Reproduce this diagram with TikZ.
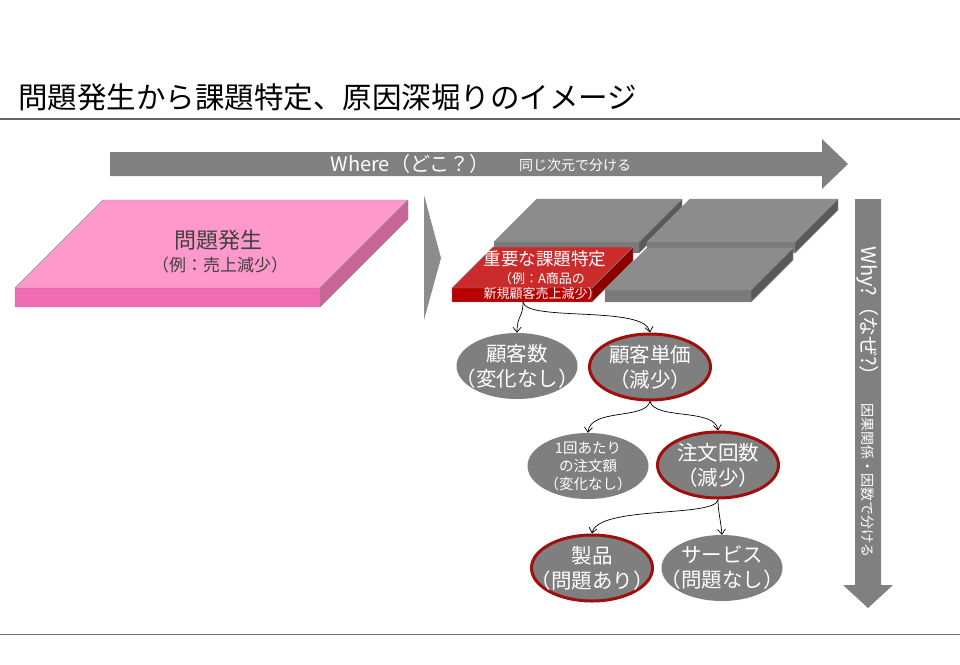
\documentclass[tikz,border=0pt]{standalone}
\usepackage{fontspec}
\setmainfont{Noto Sans CJK JP}
\usetikzlibrary{shapes.geometric,arrows.meta}
\definecolor{pinktop}{HTML}{FF99CC}
\definecolor{pinkfront}{HTML}{F06CB4}
\definecolor{pinkside}{HTML}{C8669A}
\definecolor{graytop}{HTML}{8C8C8C}
\definecolor{grayfront}{HTML}{7A7A7A}
\definecolor{grayside}{HTML}{5A5A5A}
\definecolor{redtop}{HTML}{CC2B2B}
\definecolor{redfront}{HTML}{B80000}
\definecolor{redside}{HTML}{8C0000}
\definecolor{arrowgray}{HTML}{808080}
\definecolor{ellgray}{HTML}{7F7F7F}
\definecolor{ellred}{HTML}{A00E0E}
\newcommand\myslab[8]{%
  % #1 x, #2 y (top back-left), #3 width, #4 depth, #5 thickness, #6 top, #7 front, #8 side
  \fill[#6] (#1,#2) -- ++(#3,0) -- ++(-#4,#4) -- ++(-#3,0) -- cycle;
  \fill[#7] (#1-#4,#2+#4) -- ++(#3,0) -- ++(0,#5) -- ++(-#3,0) -- cycle;
  \fill[#8] (#1+#3-#4,#2+#4) -- ++(#4,-#4) -- ++(0,#5) -- ++(-#4,#4) -- cycle;
  \draw[slabedge] (#1,#2) -- ++(#3,0) -- ++(0,#5) -- ++(-#4,#4) -- ++(-#3,0) -- ++(0,-#5) -- cycle;
  \draw[slabedge] (#1-#4,#2+#4) -- ++(#3,0) -- ++(#4,-#4) (#1+#3-#4,#2+#4) -- ++(0,#5);
}
\begin{document}
\begin{tikzpicture}[x=1pt,y=-1pt,
  slabedge/.style={draw=black!45,line width=0.4pt,line join=round},
  wtext/.style={text=white,inner sep=0pt},
  ell/.style={ellipse,fill=ellgray,inner sep=0pt,
    minimum width=121pt,minimum height=66pt},
  ellr/.style={ell,draw=ellred,line width=3pt},
  etxt/.style={wtext,align=center,font=\fontsize{20.5}{25}\selectfont},
  stxt/.style={wtext,align=center,font=\fontsize{14.5}{18}\selectfont},
  conn/.style={draw=black,line width=0.7pt,-{Straight Barb[length=5pt,width=8pt]}},
  bigarrow/.style={fill=arrowgray}]
\useasboundingbox (0,0) rectangle (960,664);
\fill[white] (0,0) rectangle (960,664);
% title
\node[anchor=west,inner sep=0pt,font=\fontsize{29.5}{31}\selectfont] (title) at (18,97) {問題発生から課題特定、原因深堀りのイメージ};
\draw[black!60,line width=1.5pt] (0,119) -- (960,119);
\draw[black!55,line width=1pt] (0,634) -- (960,634);
% horizontal arrow
\path[bigarrow] (110,152) -- (822,152) -- (822,139) -- (848,164) -- (822,189) -- (822,176) -- (110,176) -- cycle;
\node[wtext,font=\fontsize{20}{21}\selectfont] (where) at (410,164) {Where（どこ？）};
\node[wtext,font=\fontsize{14}{15}\selectfont] (wheresub) at (575,165) {同じ次元で分ける};
% vertical arrow
\path[bigarrow] (855,199) -- (881,199) -- (881,585) -- (893,585) -- (868,608) -- (843,585) -- (855,585) -- cycle;
\node[wtext,rotate=-90,font=\fontsize{20}{21}\selectfont] (why) at (868,316) {Why?（なぜ?）};
\node[wtext,rotate=-90,font=\fontsize{14}{15}\selectfont] (whysub) at (868,480) {因果関係・因数で分ける};
% pink slab
\myslab{103}{200}{305}{88}{19}{pinktop}{pinkfront}{pinkside}
\node[text=black!75,font=\fontsize{22}{24}\selectfont] (prob) at (218,240) {問題発生};
\node[text=black!75,font=\fontsize{17}{18}\selectfont] (probsub) at (220,265) {（例：売上減少）};
% chevron
\fill[graytop] (424,195) -- (441,258) -- (424,320) -- cycle;
% gray slabs
\myslab{537}{199}{145}{43}{11}{graytop}{grayfront}{grayside}
\myslab{690}{199}{148}{43}{11}{graytop}{grayfront}{grayside}
\myslab{647}{248}{146}{42}{12}{graytop}{grayfront}{grayside}
% red slab
\myslab{493}{247}{140}{41}{14}{redtop}{redfront}{redside}
\node[wtext,font=\fontsize{17.5}{18}\selectfont] (key) at (545,259) {重要な課題特定};
\node[wtext,align=center,font=\fontsize{13}{15}\selectfont] (keysub) at (542,286) {（例：A商品の\\新規顧客売上減少）};
\coordinate (rs) at (523,302);
% ellipses
\node[ell,label={[etxt]center:顧客数\\（変化なし）}] (e1) at (517,366) {};
\node[ellr,label={[etxt]center:顧客単価\\（減少）}] (e2) at (650,367) {};
\node[ell,label={[stxt]center:1回あたり\\の注文額\\（変化なし）}] (e3) at (588,466) {};
\node[ellr,label={[etxt]center:注文回数\\（減少）}] (e4) at (718,465) {};
\node[ellr,label={[etxt]center:製品\\（問題あり）}] (e5) at (592,568) {};
\node[ell,label={[etxt]center:サービス\\（問題なし）}] (e6) at (722,568) {};
% connectors
\draw[conn] (rs) .. controls (523,318) and (517,315) .. (e1.north);
\draw[conn] (rs) .. controls (526,322) and (645,305) .. (e2.north);
\draw[conn] (e2.south) .. controls (645,420) and (590,408) .. (e3.north);
\draw[conn] (e2.south) .. controls (655,420) and (715,408) .. (e4.north);
\draw[conn] (e4.south) .. controls (716,518) and (598,505) .. (e5.north);
\draw[conn] (e4.south) .. controls (718,512) and (720,515) .. (e6.north);
\end{tikzpicture}
\end{document}
